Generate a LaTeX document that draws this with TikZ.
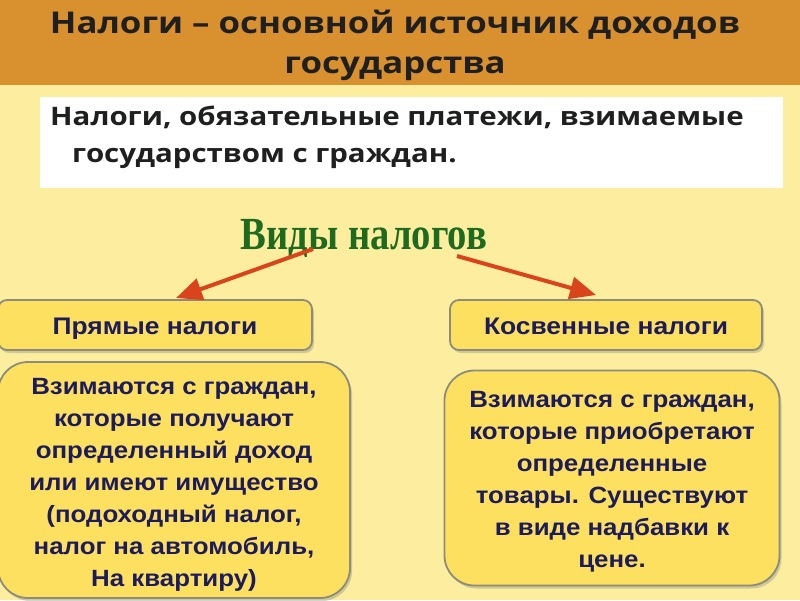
\documentclass[tikz,border=0pt]{standalone}
\usepackage{fontspec}
\usepackage{graphicx}
\setmainfont{Liberation Sans}[FakeStretch=1.1]
\newfontfamily\titlefont{Open Sans}[FakeStretch=1.16]
\newfontfamily\deffont{Open Sans}[FakeStretch=1.155]
\newfontfamily\vidyfont{Liberation Serif}
\usetikzlibrary{arrows.meta,shadows}
\definecolor{bgyellow}{HTML}{FCEE9E}
\definecolor{band}{HTML}{D9902F}
\definecolor{boxfill}{HTML}{FDE060}
\definecolor{boxline}{HTML}{8C8C7C}
\definecolor{navy}{HTML}{1C1C5C}
\definecolor{arrred}{HTML}{D9441C}
\definecolor{vgreen}{HTML}{1E6A1E}
\tikzset{
  smallbox/.style={draw=boxline, line width=1.8pt, fill=boxfill, rounded corners=9pt,
    drop shadow={shadow xshift=2pt, shadow yshift=-3pt, opacity=0.35},
    font=\bfseries\fontsize{24}{28}\selectfont, text=navy, inner sep=0pt,
    text height=24pt, text depth=5pt},
  bigbox/.style={draw=boxline, line width=1.8pt, fill=boxfill, rounded corners=30pt,
    drop shadow={shadow xshift=2pt, shadow yshift=-3pt, opacity=0.35},
    inner sep=0pt},
  bigtext/.style={font=\bfseries\fontsize{23.5}{32}\selectfont, text=navy, align=center},
  arr/.style={draw=arrred, line width=4pt,
    -{Triangle[length=26pt,width=22pt,fill=arrred]}},
}
\begin{document}
\begin{tikzpicture}[x=1pt,y=-1pt]
\useasboundingbox (0,0) rectangle (800,600);
\fill[bgyellow] (0,0) rectangle (800,600);
\fill[band] (0,0) rectangle (800,85);
\node[font=\titlefont\bfseries\fontsize{30}{40}\selectfont, align=center, text=black!88] (title) at (395,45)
  {Налоги – основной источник доходов\\государства};
\fill[white] (40,97) rectangle (783,188);
\node[font=\deffont\bfseries\fontsize{25.5}{37}\selectfont, align=left, anchor=north west, text=black!88, inner sep=0pt] (def) at (50,106)
  {Налоги, обязательные платежи, взимаемые\\\hspace*{22pt}государством с граждан.};
\node[font=\vidyfont\bfseries\fontsize{46}{50}\selectfont, text=vgreen, inner sep=0pt] (vidy) at (364,238)
  {\scalebox{0.84}[1]{Виды налогов}};
\node[smallbox, minimum width=314pt, minimum height=50pt] (direct) at (155,325) {Прямые налоги};
\node[smallbox, minimum width=312pt, minimum height=50pt] (indirect) at (606,325) {Косвенные налоги};
\node[bigbox, minimum width=352pt, minimum height=236pt] (dbig) at (174,480) {};
\node[bigtext] (dtext) at ([yshift=-5pt]dbig.center)
  {Взимаются с граждан,\\которые получают\\определенный доход\\или имеют имущество\\(подоходный налог,\\налог на автомобиль,\\На квартиру)};
\node[bigbox, minimum width=335pt, minimum height=215pt] (ibig) at (612,478) {};
\node[bigtext] (itext) at ([yshift=-4pt]ibig.center)
  {Взимаются с граждан,\\которые приобретают\\определенные\\товары. Существуют\\в виде надбавки к\\цене.};
\coordinate (l1) at (313,249);
\coordinate (l2) at (176,298);
\coordinate (r1) at (457,256);
\coordinate (r2) at (596,295);
\draw[arr] (l1) -- (l2);
\draw[arr] (r1) -- (r2);
\end{tikzpicture}
\end{document}
